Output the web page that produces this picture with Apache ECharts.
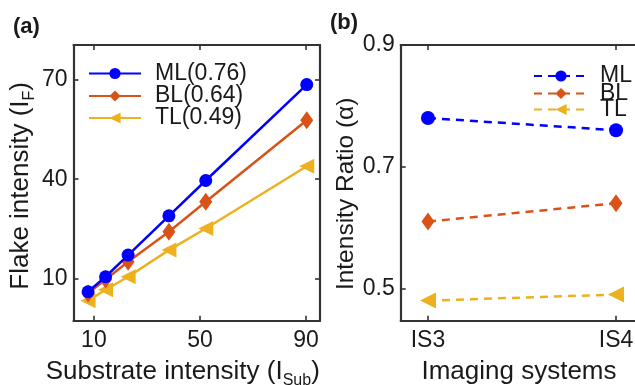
<!DOCTYPE html>
<html>
<head>
<meta charset="utf-8">
<script src="https://cdn.jsdelivr.net/npm/echarts@6/dist/echarts.min.js"></script>
<style>
html,body{margin:0;padding:0;background:#fff;}
#c{width:635px;height:385px;}
</style>
</head>
<body>
<div id="c"></div>
<script>
// Panel (a): flake intensity vs substrate intensity
var substrateX = [7.8, 14.4, 22.9, 38.3, 52.2, 90.3];
var flakeML = [6.2, 10.7, 17.2, 29.0, 39.6, 68.4];
var flakeBL = [5.7, 9.9, 15.2, 24.2, 33.2, 57.7];
var flakeTL = [3.5, 6.8, 10.7, 18.7, 25.2, 43.9];
var namesA = ['ML(0.76)', 'BL(0.64)', 'TL(0.49)'];
var xTicksA = [10, 50, 90];
var yTicksA = [10, 40, 70];

// Panel (b): intensity ratio per imaging system
var systems = ['IS3', 'IS4'];
var ratioML = [0.78, 0.76];
var ratioBL = [0.61, 0.64];
var ratioTL = [0.48, 0.49];
var namesB = ['ML', 'BL', 'TL'];
var yTicksB = [0.5, 0.7, 0.9];

var colors = ['#0000ff', '#d95319', '#edb120'];
var FONT = '"Liberation Sans", Arial, sans-serif';
var TXT = '#1a1a1a';
var AX = '#333333';

function pairs(xs, ys) { return ys.map(function (y, i) { return [xs[i], y]; }); }
var sysIdx = systems.map(function (s, i) { return i; });

function mkAxis(base) {
  var o = {
    type: 'value',
    splitLine: { show: false },
    axisLine: { show: true, onZero: false, lineStyle: { color: AX, width: 2.2 } },
    axisTick: { show: true, inside: true, length: 5, lineStyle: { color: AX, width: 1.6 } },
    axisLabel: { show: false }
  };
  for (var k in base) o[k] = base[k];
  return o;
}

var nameRich = {
  a: { fontSize: 26, fontFamily: FONT, color: TXT, lineHeight: 30, verticalAlign: 'top' },
  s: { fontSize: 16, fontFamily: FONT, color: TXT, lineHeight: 16, verticalAlign: 'bottom' }
};

var symA = ['circle', 'diamond', 'triangle'];
var sizeA = [13, [13, 18], 15];
var sizeB = [14, [13, 18], 16];
var rotA = [0, 0, 90];

function mkLegend(name, left, top, iconW, textPad) {
  return {
    data: [name], orient: 'vertical', left: left, top: top, padding: 0,
    itemWidth: iconW, itemHeight: 14, itemGap: 0,
    textStyle: { fontSize: 23, color: TXT, fontFamily: FONT, padding: [0, 0, 0, textPad] }
  };
}
var legA_rows = [62, 84.5, 106.5];
var legB_rows = [64.5, 82, 98];

var chart = echarts.init(document.getElementById('c'));
var option = {
  animation: false,
  backgroundColor: '#ffffff',
  textStyle: { fontFamily: FONT },
  graphic: [
    { type: 'text', left: 13, top: 16, style: { text: '(a)', font: 'bold 22px ' + FONT, fill: TXT } },
    { type: 'text', left: 330, top: 12, style: { text: '(b)', font: 'bold 22px ' + FONT, fill: TXT } }
  ],
  grid: [
    { left: 73.5, top: 45, width: 246.5, height: 275.7, outerBoundsMode: 'none', containLabel: false },
    { left: 400.7, top: 45, width: 242.6, height: 275.7, outerBoundsMode: 'none', containLabel: false }
  ],
  xAxis: [
    mkAxis({
      gridIndex: 0, position: 'bottom', min: 2.3, max: 95.3,
      axisTick: { show: true, inside: true, length: 5, customValues: xTicksA, lineStyle: { color: AX, width: 1.6 } },
      axisLabel: { show: true, customValues: xTicksA, fontSize: 23, color: TXT, fontFamily: FONT, margin: 8 },
      name: '{a|Substrate intensity (I}{s|Sub}{a|)}',
      nameLocation: 'middle', nameGap: 38,
      nameTextStyle: { rich: nameRich, padding: [0, 28, 0, 0] }
    }),
    mkAxis({
      gridIndex: 0, position: 'top', min: 2.3, max: 95.3,
      axisTick: { show: true, inside: true, length: 5, customValues: xTicksA, lineStyle: { color: AX, width: 1.6 } }
    }),
    mkAxis({
      gridIndex: 1, position: 'bottom', min: -0.145, max: 1.145,
      axisTick: { show: true, inside: true, length: 5, customValues: sysIdx, lineStyle: { color: AX, width: 1.6 } },
      axisLabel: { show: true, customValues: sysIdx, fontSize: 23, color: TXT, fontFamily: FONT, margin: 8,
        formatter: function (v) { return systems[Math.round(v)]; } },
      name: 'Imaging systems',
      nameLocation: 'middle', nameGap: 38,
      nameTextStyle: { fontSize: 26, color: TXT, fontFamily: FONT, padding: [0, 6, 0, 0] }
    }),
    mkAxis({
      gridIndex: 1, position: 'top', min: -0.145, max: 1.145,
      axisTick: { show: true, inside: true, length: 5, customValues: sysIdx, lineStyle: { color: AX, width: 1.6 } }
    })
  ],
  yAxis: [
    mkAxis({
      gridIndex: 0, position: 'left', min: -2.5, max: 80.3,
      axisTick: { show: true, inside: true, length: 5, customValues: yTicksA, lineStyle: { color: AX, width: 1.6 } },
      axisLabel: { show: true, customValues: yTicksA, fontSize: 23, color: TXT, fontFamily: FONT, margin: 6 },
      name: '{a|Flake intensity (I}{s|F}{a|)}',
      nameLocation: 'middle', nameGap: 22,
      nameTextStyle: { rich: nameRich, padding: [0, 6, 0, 0] }
    }),
    mkAxis({
      gridIndex: 0, position: 'right', min: -2.5, max: 80.3,
      axisTick: { show: true, inside: true, length: 5, customValues: yTicksA, lineStyle: { color: AX, width: 1.6 } }
    }),
    mkAxis({
      gridIndex: 1, position: 'left', min: 0.447, max: 0.9,
      axisTick: { show: true, inside: true, length: 5, customValues: yTicksB, lineStyle: { color: AX, width: 1.6 } },
      axisLabel: { show: true, customValues: yTicksB, fontSize: 23, color: TXT, fontFamily: FONT, margin: 6,
        formatter: function (v) { return v.toFixed(1); } },
      name: 'Intensity Ratio (α)',
      nameLocation: 'middle', nameGap: 42,
      nameTextStyle: { fontSize: 24.5, color: TXT, fontFamily: FONT, padding: [0, 22, 0, 0] }
    }),
    mkAxis({
      gridIndex: 1, position: 'right', min: 0.447, max: 0.9,
      axisTick: { show: true, inside: true, length: 5, customValues: yTicksB, lineStyle: { color: AX, width: 1.6 } }
    })
  ],
  legend: [
    mkLegend(namesA[0], 88, legA_rows[0], 52, 9),
    mkLegend(namesA[1], 88, legA_rows[1], 52, 9),
    mkLegend(namesA[2], 88, legA_rows[2], 52, 9),
    mkLegend(namesB[0], 533, legB_rows[0], 54, 7),
    mkLegend(namesB[1], 533, legB_rows[1], 54, 7),
    mkLegend(namesB[2], 533, legB_rows[2], 54, 7)
  ],
  series: [
    { name: namesA[0], type: 'line', xAxisIndex: 0, yAxisIndex: 0, data: pairs(substrateX, flakeML) },
    { name: namesA[1], type: 'line', xAxisIndex: 0, yAxisIndex: 0, data: pairs(substrateX, flakeBL) },
    { name: namesA[2], type: 'line', xAxisIndex: 0, yAxisIndex: 0, data: pairs(substrateX, flakeTL) },
    { name: namesB[0], type: 'line', xAxisIndex: 2, yAxisIndex: 2, data: pairs(sysIdx, ratioML) },
    { name: namesB[1], type: 'line', xAxisIndex: 2, yAxisIndex: 2, data: pairs(sysIdx, ratioBL) },
    { name: namesB[2], type: 'line', xAxisIndex: 2, yAxisIndex: 2, data: pairs(sysIdx, ratioTL) }
  ].map(function (s, i) {
    var k = i % 3;
    var dashed = i >= 3;
    s.color = colors[k];
    s.symbol = symA[k];
    s.symbolSize = dashed ? sizeB[k] : sizeA[k];
    s.symbolRotate = rotA[k];
    s.showAllSymbol = true;
    s.z = 10 - k;
    s.lineStyle = { color: colors[k], width: 2.5, type: dashed ? [8, 6] : 'solid' };
    s.itemStyle = { color: colors[k] };
    return s;
  })
};
chart.setOption(option);
</script>
</body>
</html>
